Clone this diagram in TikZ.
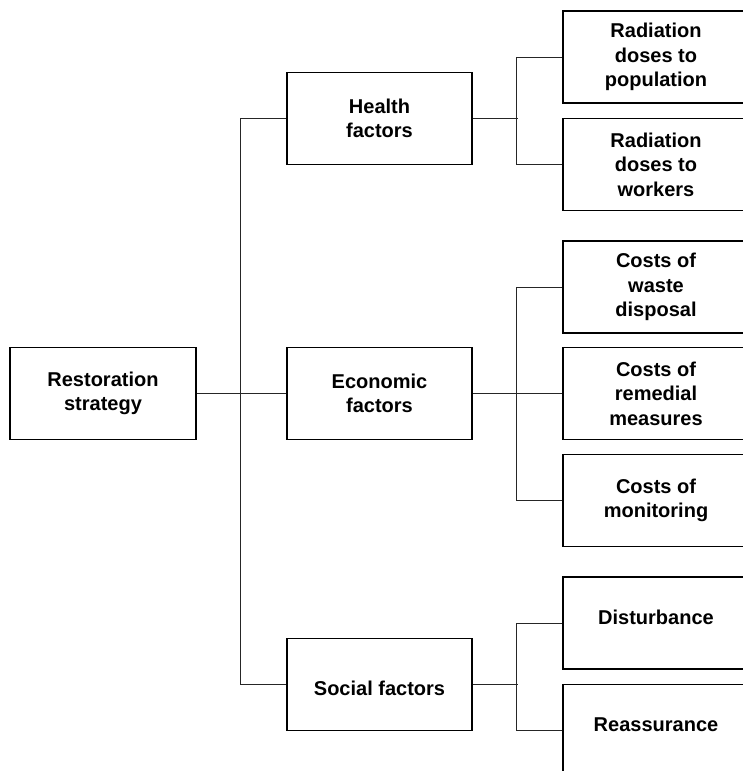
\documentclass[tikz,border=0pt]{standalone}
\usepackage{fontspec}
\setmainfont{Liberation Sans}
\begin{document}
\begin{tikzpicture}[x=1pt,y=-1pt,
  box/.style={draw=black,line width=1.6pt,rectangle,minimum width=186pt,minimum height=92pt,
    inner sep=0pt,align=center,font=\fontsize{20}{24.5}\selectfont\bfseries},
  conn/.style={draw=black!85,line width=0.9pt}]
\useasboundingbox (0,0) rectangle (742,771);
\node[box] (rs) at (103,393.5) {Restoration\\strategy};
\node[box,minimum width=185pt] (hf) at (379.5,118.5) {Health\\factors};
\node[box,minimum width=185pt] (ef) at (379.5,393.5) {Economic\\factors};
\node[box,minimum width=185pt] (sf) at (379.5,684.5) {\raisebox{-4pt}[\height][\depth]{Social factors}};
\node[box] (r1) at (656,57) {Radiation\\doses to\\population};
\node[box] (r2) at (656,164.5) {Radiation\\doses to\\workers};
\node[box] (c1) at (656,287) {Costs of\\waste\\disposal};
\node[box] (c2) at (656,393.5) {Costs of\\remedial\\measures};
\node[box] (c3) at (656,500.5) {Costs of\\monitoring};
\node[box] (d1) at (656,623) {\raisebox{6pt}[\height][\depth]{Disturbance}};
\node[box] (d2) at (656,730.5) {\raisebox{6pt}[\height][\depth]{Reassurance}};
% main tree
\draw[conn] (rs.east) -- (ef.west);
\draw[conn] (hf.west) -- ++(-46,0) coordinate (bt) |- (sf.west);
% health branch
\draw[conn] (hf.east) -- ++(45,0);
\draw[conn] (r1.west) -- ++(-46,0) |- (r2.west);
% economic branch
\draw[conn] (ef.east) -- (c2.west);
\draw[conn] (c1.west) -- ++(-46,0) |- (c3.west);
% social branch
\draw[conn] (sf.east) -- ++(45,0);
\draw[conn] (d1.west) -- ++(-46,0) |- (d2.west);
\end{tikzpicture}
\end{document}
